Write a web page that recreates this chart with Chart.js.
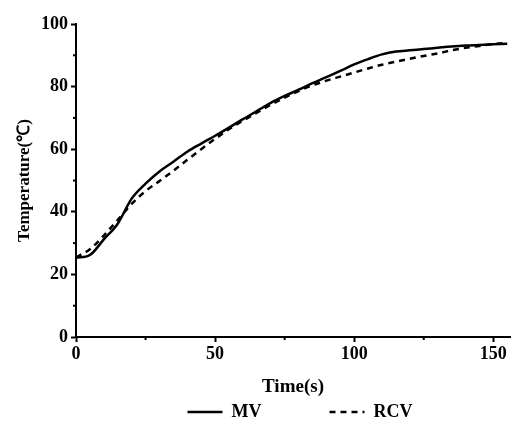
<!DOCTYPE html>
<html>
<head>
<meta charset="utf-8">
<script src="https://cdn.jsdelivr.net/npm/chart.js@4.4.0/dist/chart.umd.min.js"></script>
<style>
  html, body { margin: 0; padding: 0; background: #fff; }
  #wrap { width: 514px; height: 426px; }
</style>
</head>
<body>
<div id="wrap"><canvas id="myChart" width="514" height="426"></canvas></div>
<script>
// time points (s)
const times = [0, 5, 10, 15, 20, 25, 30, 35, 40, 45, 50, 55, 60, 65, 70, 75,
  80, 85, 90, 95, 100, 105, 110, 115, 120, 125, 130, 135, 140, 145, 150, 155];
// temperatures
const mvTemps = [25.3, 26.2, 31.2, 36.2, 44.2, 49, 52.9, 56, 59.2, 61.8, 64.3, 66.9, 69.6, 72.2, 74.8, 77,
  79, 81.1, 83, 85, 87.1, 88.8, 90.3, 91.2, 91.6, 92, 92.4, 92.8, 93.1, 93.3, 93.5, 93.7];
const rcvTemps = [25.5, 28, 32.4, 37.4, 42.5, 46.6, 49.8, 53.1, 56.6, 60, 63.3, 66.4, 69.1, 71.7, 74.2, 76.5,
  78.6, 80.4, 81.9, 83.2, 84.5, 85.8, 87, 88, 88.9, 89.8, 90.6, 91.6, 92.4, 93, 93.6, 94];
const seriesNames = ['MV', 'RCV'];
const xMinorTicks = [25, 75, 125];
const yMinorTicks = [10, 30, 50, 70, 90];

const serif = "'Liberation Serif', 'Times New Roman', serif";
const legendGap = 68;

const toPoints = (vals) => times.map((t, i) => ({x: t, y: vals[i]}));

// small unlabeled ticks between the major ones
const minorTicks = {
  id: 'minorTicks',
  afterDraw(chart) {
    const ctx = chart.ctx;
    const xs = chart.scales.x;
    const ys = chart.scales.y;
    ctx.save();
    ctx.strokeStyle = '#000';
    ctx.lineWidth = 2;
    for (const v of yMinorTicks) {
      const py = ys.getPixelForValue(v);
      ctx.beginPath();
      ctx.moveTo(ys.right, py);
      ctx.lineTo(ys.right - 3, py);
      ctx.stroke();
    }
    for (const v of xMinorTicks) {
      const px = xs.getPixelForValue(v);
      ctx.beginPath();
      ctx.moveTo(px, xs.top);
      ctx.lineTo(px, xs.top + 3);
      ctx.stroke();
    }
    ctx.restore();
  }
};

// the legend padding is wide so the items sit far apart; keep its box short
const legendBox = {
  id: 'legendBox',
  beforeLayout(chart) {
    const legend = chart.legend;
    if (legend && !legend._shortFit) {
      const fit = legend.fit.bind(legend);
      legend.fit = function () {
        fit();
        this.height = 26;
      };
      legend._shortFit = true;
    }
  },
  afterLayout(chart) {
    const legend = chart.legend;
    legend.top = legend.top - legendGap + 3;
    legend.left += 7;
    legend.right += 7;
  }
};

new Chart(document.getElementById('myChart').getContext('2d'), {
  type: 'line',
  data: {
    datasets: [{
      label: seriesNames[0],
      data: toPoints(mvTemps),
      borderColor: '#000',
      borderWidth: 2.5,
      pointRadius: 0,
      cubicInterpolationMode: 'monotone',
      fill: false
    }, {
      label: seriesNames[1],
      data: toPoints(rcvTemps),
      borderColor: '#000',
      borderWidth: 2.5,
      borderDash: [6, 5],
      pointRadius: 0,
      cubicInterpolationMode: 'monotone',
      fill: false
    }]
  },
  options: {
    responsive: false,
    animation: false,
    layout: {padding: {top: 24, right: 4, left: 0, bottom: 0}},
    plugins: {
      tooltip: {enabled: false},
      legend: {
        position: 'bottom',
        fullSize: false,
        labels: {
          color: '#000',
          font: {family: serif, size: 18, weight: 'bold'},
          usePointStyle: true,
          pointStyle: 'line',
          pointStyleWidth: 35,
          padding: legendGap,
          generateLabels: (chart) => {
            const items = Chart.defaults.plugins.legend.labels.generateLabels(chart);
            return items.map((item) => {
              const ds = chart.data.datasets[item.datasetIndex];
              item.lineDash = ds.borderDash || [];
              item.lineWidth = ds.borderWidth;
              item.strokeStyle = ds.borderColor;
              item.pointStyle = 'line';
              return item;
            });
          }
        }
      }
    },
    scales: {
      x: {
        type: 'linear',
        min: 0,
        max: 156,
        afterFit: (scale) => { scale.height = 63; },
        border: {display: true, color: '#000', width: 2},
        grid: {display: true, drawOnChartArea: false, drawTicks: true, tickLength: 5, tickColor: '#000', tickWidth: 2},
        ticks: {stepSize: 50, includeBounds: false, color: '#000', padding: 2, maxRotation: 0,
          font: {family: serif, size: 18, weight: 'bold'}},
        title: {display: true, text: 'Time(s)', color: '#000', padding: {top: 0, bottom: 2},
          font: {family: serif, size: 19, weight: 'bold'}}
      },
      y: {
        type: 'linear',
        min: 0,
        max: 100,
        afterFit: (scale) => { scale.width = 76; },
        border: {display: true, color: '#000', width: 2},
        grid: {display: true, drawOnChartArea: false, drawTicks: true, tickLength: 5, tickColor: '#000', tickWidth: 2},
        ticks: {stepSize: 20, color: '#000', padding: 3,
          font: {family: serif, size: 18, weight: 'bold'}},
        title: {display: true, text: 'Temperature(℃)', color: '#000', padding: {top: 14, bottom: 0},
          font: {family: serif, size: 17, weight: 'bold'}}
      }
    }
  },
  plugins: [minorTicks, legendBox]
});
</script>
</body>
</html>
